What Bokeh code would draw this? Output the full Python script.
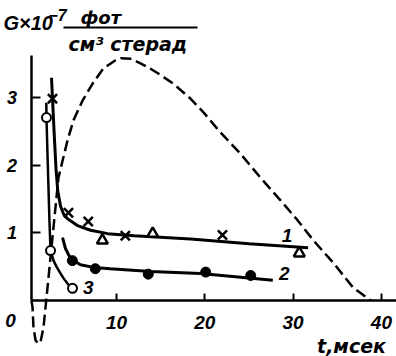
from bokeh.plotting import figure
from bokeh.models import LinearAxis, FixedTicker, Range1d, Label, BoxAnnotation, ColumnDataSource
from bokeh.core.properties import value
from bokeh.embed import file_html
from bokeh.resources import INLINE

# ---------------- data (t in ms, G in 1e7 photons / cm^3 sr) ----------------
# dashed curve
t_dashed = [0.37, 0.49, 0.60, 0.83, 1.17, 1.39, 1.73, 2.04, 2.46, 2.83, 3.17, 3.43, 3.89,
            4.45, 5.13, 6.15, 7.28, 8.53, 9.89, 10.5, 11.6, 12.6, 13.5, 14.64, 16.46,
            18.38, 19.9, 21.7, 24.0, 26.3, 28.6, 30.5, 32.3, 34.6, 36.8, 38.8]
G_dashed = [0.0, -0.10, -0.40, -0.59, -0.64, -0.62, -0.40, 0.0, 0.55, 1.04, 1.48, 1.82, 2.07,
            2.37, 2.67, 2.96, 3.21, 3.44, 3.56, 3.59, 3.58, 3.52, 3.46, 3.37, 3.21,
            2.99, 2.78, 2.50, 2.18, 1.82, 1.48, 1.19, 0.89, 0.55, 0.19, 0.0]

# curve 1 (fitted line) and its points
t_line1 = [2.64, 2.75, 2.95, 3.15, 3.35, 3.66, 4.0, 4.45, 5.58, 7.06, 9.0, 12.0, 18.4, 25.0, 31.7]
G_line1 = [3.30, 3.00, 2.45, 1.95, 1.62, 1.40, 1.28, 1.21, 1.11, 1.04, 0.99, 0.96, 0.91, 0.84, 0.78]
t_cross = [2.75, 4.56, 6.8, 11.0, 22.0]
G_cross = [2.99, 1.30, 1.17, 0.96, 0.97]
t_tri = [8.4, 14.1, 30.7]
G_tri = [0.89, 0.99, 0.70]

# curve 2
t_line2 = [3.89, 4.22, 4.79, 5.92, 7.4, 9.3, 13.9, 19.5, 27.7]
G_line2 = [0.93, 0.77, 0.62, 0.53, 0.49, 0.47, 0.43, 0.40, 0.30]
t_dot = [5.0, 7.6, 13.6, 20.1, 25.2]
G_dot = [0.59, 0.47, 0.39, 0.42, 0.37]

# curve 3
t_line3 = [2.05, 2.07, 2.20, 2.40, 2.53, 2.87, 3.25, 3.66, 4.05, 4.45, 5.02]
G_line3 = [2.93, 2.71, 2.10, 1.20, 0.74, 0.59, 0.49, 0.40, 0.32, 0.25, 0.18]
t_open = [2.07, 2.53, 5.02]
G_open = [2.71, 0.74, 0.18]

# curve numbers
curve_names = ["1", "2", "3"]
t_names = [29.3, 29.0, 6.8]
G_names = [0.96, 0.40, 0.19]

x_ticks = [10, 20, 30, 40]
y_ticks = [1, 2, 3]

DIG = "Liberation Sans"
CYR = "DejaVu Sans"

W, H = 396, 356
p = figure(width=W, height=H, output_backend="svg", toolbar_location=None,
           x_range=Range1d(-3.137, 41.71), y_range=Range1d(-0.830, 4.444),
           x_axis_type=None, y_axis_type=None, title=None,
           min_border=0, min_border_left=0, min_border_right=0,
           min_border_top=0, min_border_bottom=0)
p.outline_line_color = None
p.xgrid.visible = False
p.ygrid.visible = False
p.background_fill_color = "white"

xaxis = LinearAxis(fixed_location=0, ticker=FixedTicker(ticks=x_ticks), bounds=(0.32, 41.71),
                   major_tick_in=7, major_tick_out=0, minor_tick_in=0, minor_tick_out=0,
                   axis_line_width=2.5, major_tick_line_width=2, major_label_standoff=16,
                   major_label_text_font=DIG, major_label_text_font_size="19px",
                   major_label_text_font_style="bold italic", major_label_text_color="black")
p.add_layout(xaxis, "below")

yaxis = LinearAxis(fixed_location=0.32, ticker=FixedTicker(ticks=y_ticks), bounds=(0, 3.63),
                   major_tick_in=9, major_tick_out=0, minor_tick_in=0, minor_tick_out=0,
                   axis_line_width=2.5, major_tick_line_width=2, major_label_standoff=14,
                   major_label_text_font=DIG, major_label_text_font_size="18px",
                   major_label_text_font_style="bold italic", major_label_text_color="black")
p.add_layout(yaxis, "left")

# dashed curve
p.line(t_dashed, G_dashed, line_color="black", line_width=2.5, line_dash="11 5")

# solid curves
p.line(t_line1, G_line1, line_color="black", line_width=3)
p.line(t_line2, G_line2, line_color="black", line_width=3)
p.line(t_line3, G_line3, line_color="black", line_width=2.5)

# markers
p.scatter(t_cross, G_cross, marker="x", size=13, line_color="black", line_width=2.5)
p.scatter(t_tri, G_tri, marker="triangle", size=11, line_color="black", line_width=2.5,
          fill_color="white")
p.scatter(t_dot, G_dot, marker="circle", size=10, line_color="black", fill_color="black")
p.scatter(t_open, G_open, marker="circle", size=9, line_color="black", line_width=2,
          fill_color="white")

# curve numbers
src = ColumnDataSource(dict(x=t_names, y=G_names, txt=curve_names))
p.text("x", "y", text="txt", source=src, text_font=value(DIG), text_font_size="19px",
       text_font_style="bold italic", text_align="center", text_baseline="middle",
       text_color="black")

def lab(txt, x, y, size, font=CYR, align="left", style="bold italic"):
    # x from left edge, y from top edge (converted to Bokeh's bottom-up screen units)
    p.add_layout(Label(x=x, y=H - y, x_units="screen", y_units="screen", text=txt,
                       text_font=font, text_font_size=size, text_font_style=style,
                       text_align=align, text_baseline="middle", text_color="black"))

# corner zero and axis title
lab("0", 10, 320, "19px", font=DIG, align="center")
lab("t,мсек", 351, 345, "19px", align="center")

# y title: G*10^-7 фот / см³ стерад
lab("G×10", 3, 22, "20px", font=DIG)
lab("−7", 48, 14, "16px", font=DIG)
lab("фот", 80, 17, "18px")
p.add_layout(BoxAnnotation(left=63, right=197, bottom=H - 28, top=H - 26,
                           left_units="screen", right_units="screen",
                           bottom_units="screen", top_units="screen",
                           fill_color="black", fill_alpha=1, line_color=None))
lab("см³ стерад", 68, 43, "19px")

open("out.html", "w").write(file_html(p, INLINE))
